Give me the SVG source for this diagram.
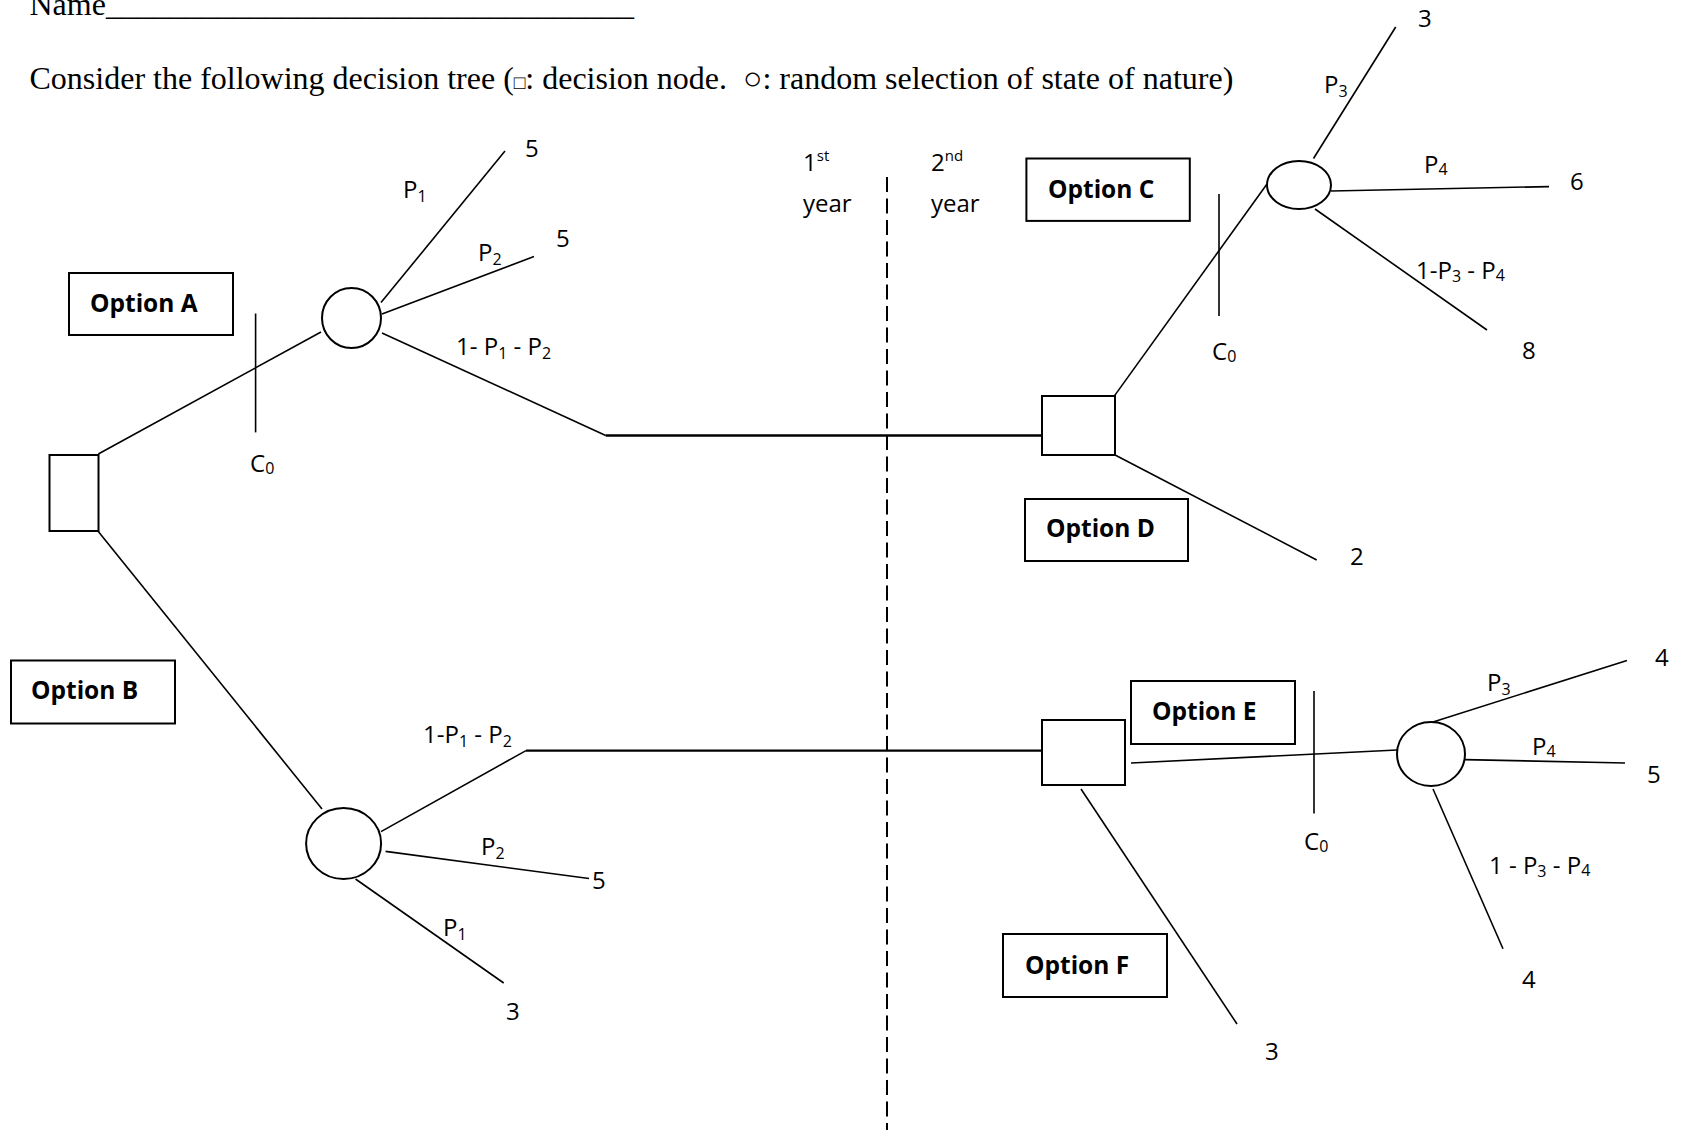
<svg xmlns="http://www.w3.org/2000/svg" width="1685" height="1130" viewBox="0 0 1685 1130">
<style>
.hdr{font-family:"Liberation Serif","Times New Roman",serif;font-size:32px;fill:#000;white-space:pre}
.sym{font-size:19px}
.t{font-family:"Open Sans","Liberation Sans",sans-serif;font-size:24px;fill:#000}
.b{font-family:"Open Sans","Liberation Sans",sans-serif;font-size:24.5px;font-weight:bold;fill:#000}
.sub{font-size:16px}
.sup{font-size:15px}
.box{fill:#fff;stroke:#000;stroke-width:2}
.node{fill:#fff;stroke:#000;stroke-width:2}
.ln{stroke:#000;stroke-width:1.6;fill:none}
.hl{stroke:#000;stroke-width:2.3;fill:none}
.dash{stroke:#000;stroke-width:2;stroke-dasharray:15 6.5;fill:none}
</style>
<rect width="1685" height="1130" fill="#fff"/>
<g id="header">
<text class="hdr" x="29.5" y="15">Name_________________________________</text>
<text class="hdr" x="29.5" y="89">Consider the following decision tree (<tspan class="sym">□</tspan>: decision node.  ○: random selection of state of nature)</text>
</g>
<g id="connectors">
<line class="dash" x1="887" y1="177" x2="887" y2="1130"/>
<line class="ln" x1="98.3" y1="454" x2="321" y2="332"/>
<line class="ln" x1="255.6" y1="313.5" x2="255.6" y2="432.4"/>
<line class="ln" x1="381" y1="302.6" x2="505" y2="151"/>
<line class="ln" x1="382" y1="314" x2="534" y2="256.5"/>
<polyline class="ln" points="382,333 605.7,435.5"/>
<line class="hl" x1="605.7" y1="435.5" x2="1042" y2="435.5"/>
<line class="ln" x1="1114.6" y1="395.6" x2="1267" y2="184"/>
<line class="ln" x1="1219" y1="194" x2="1219" y2="316"/>
<line class="ln" x1="1313.5" y1="158.5" x2="1395.7" y2="27"/>
<line class="ln" x1="1331" y1="191" x2="1549" y2="186.6"/>
<line class="ln" x1="1315" y1="209" x2="1487" y2="330"/>
<line class="ln" x1="1114.6" y1="454.7" x2="1316.7" y2="560"/>
<line class="ln" x1="98.3" y1="531.4" x2="322" y2="809"/>
<line class="ln" x1="381" y1="831.6" x2="526" y2="750.6"/>
<line class="hl" x1="526" y1="750.6" x2="1042" y2="750.6"/>
<line class="ln" x1="385.6" y1="851.4" x2="589" y2="878.5"/>
<line class="ln" x1="355.5" y1="879" x2="503.7" y2="983"/>
<line class="ln" x1="1131" y1="763" x2="1397" y2="750"/>
<line class="ln" x1="1314" y1="691" x2="1314" y2="813.6"/>
<line class="ln" x1="1433" y1="722" x2="1627" y2="660.5"/>
<line class="ln" x1="1464.5" y1="759.6" x2="1625" y2="763"/>
<line class="ln" x1="1433" y1="789" x2="1503" y2="948.7"/>
<line class="ln" x1="1081" y1="789" x2="1237" y2="1024"/>
</g>
<g id="root"><rect class="node" x="49.5" y="455" width="49" height="76"/></g>
<g id="chanceA"><ellipse class="node" cx="351.5" cy="318" rx="29.5" ry="30"/></g>
<g id="decisionCD"><rect class="node" x="1042" y="396" width="73" height="59"/></g>
<g id="chanceC"><ellipse class="node" cx="1299" cy="185" rx="32" ry="24"/></g>
<g id="chanceB"><ellipse class="node" cx="343.6" cy="843.5" rx="37.5" ry="35.5"/></g>
<g id="decisionEF"><rect class="node" x="1042" y="720" width="83" height="65"/></g>
<g id="chanceE"><ellipse class="node" cx="1431" cy="754" rx="34" ry="32"/></g>
<g id="optionA"><rect class="box" x="69" y="273" width="164" height="62"/><text class="b" x="90" y="312">Option A</text></g>
<g id="optionB"><rect class="box" x="11" y="660.5" width="164" height="63"/><text class="b" x="31" y="699">Option B</text></g>
<g id="optionC"><rect class="box" x="1026.4" y="158.5" width="163.4" height="62.4"/><text class="b" x="1048" y="197.5">Option C</text></g>
<g id="optionD"><rect class="box" x="1025" y="499" width="163" height="62"/><text class="b" x="1046" y="537">Option D</text></g>
<g id="optionE"><rect class="box" x="1131" y="681" width="164" height="63"/><text class="b" x="1152" y="720">Option E</text></g>
<g id="optionF"><rect class="box" x="1003" y="934" width="164" height="63"/><text class="b" x="1025" y="974">Option F</text></g>
<g id="labels">
<text class="t" x="525" y="157">5</text>
<text class="t" x="403" y="198">P<tspan class="sub" dy="4">1</tspan></text>
<text class="t" x="556" y="247">5</text>
<text class="t" x="478" y="261">P<tspan class="sub" dy="4">2</tspan></text>
<text class="t" x="456" y="355">1- P<tspan class="sub" dy="4">1</tspan><tspan dy="-4"> - P</tspan><tspan class="sub" dy="4">2</tspan></text>
<text class="t" x="250" y="472">C<tspan class="sub" dy="2">0</tspan></text>
<text class="t" x="803" y="171">1<tspan class="sup" dy="-10">st</tspan></text>
<text class="t" x="803" y="212">year</text>
<text class="t" x="931" y="171">2<tspan class="sup" dy="-10">nd</tspan></text>
<text class="t" x="931" y="212">year</text>
<text class="t" x="1418" y="27">3</text>
<text class="t" x="1324" y="93">P<tspan class="sub" dy="4">3</tspan></text>
<text class="t" x="1424" y="173">P<tspan class="sub" dy="2">4</tspan></text>
<text class="t" x="1570" y="190">6</text>
<text class="t" x="1416" y="279">1-P<tspan class="sub" dy="3">3</tspan><tspan dy="-3"> - P</tspan><tspan class="sub" dy="2">4</tspan></text>
<text class="t" x="1522" y="358.5">8</text>
<text class="t" x="1212" y="360">C<tspan class="sub" dy="2">0</tspan></text>
<text class="t" x="1350" y="565">2</text>
<text class="t" x="423" y="743">1-P<tspan class="sub" dy="4">1</tspan><tspan dy="-4"> - P</tspan><tspan class="sub" dy="4">2</tspan></text>
<text class="t" x="481" y="855">P<tspan class="sub" dy="4">2</tspan></text>
<text class="t" x="592" y="889">5</text>
<text class="t" x="443" y="936">P<tspan class="sub" dy="4">1</tspan></text>
<text class="t" x="506" y="1020">3</text>
<text class="t" x="1304" y="850">C<tspan class="sub" dy="2">0</tspan></text>
<text class="t" x="1487" y="691">P<tspan class="sub" dy="4">3</tspan></text>
<text class="t" x="1655" y="666">4</text>
<text class="t" x="1532" y="755">P<tspan class="sub" dy="2">4</tspan></text>
<text class="t" x="1647" y="783">5</text>
<text class="t" x="1489" y="874">1 - P<tspan class="sub" dy="3">3</tspan><tspan dy="-3"> - P</tspan><tspan class="sub" dy="2">4</tspan></text>
<text class="t" x="1522" y="988">4</text>
<text class="t" x="1265" y="1060">3</text>
</g>
</svg>
